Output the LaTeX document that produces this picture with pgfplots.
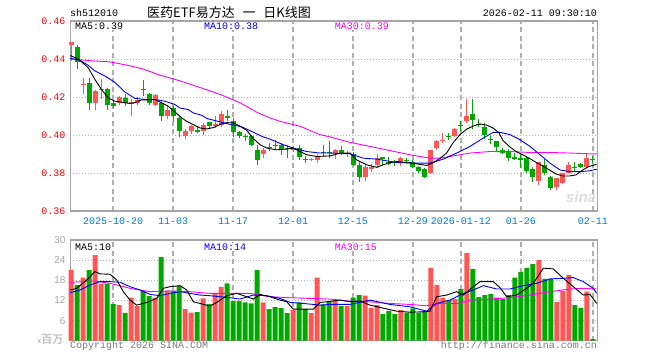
\documentclass[border=0pt]{standalone}
\usepackage{pgfplots}
\pgfplotsset{compat=1.18}
\usepackage{pgfplotstable}
\usepackage{fontspec}
\setmonofont{Liberation Mono}
\setsansfont{Liberation Sans}
\newfontfamily\cjk{Noto Sans CJK SC}
\definecolor{upred}{RGB}{255,85,85}
\definecolor{dngreen}{RGB}{0,168,0}
\definecolor{framegray}{RGB}{165,165,165}
\definecolor{gridgray}{RGB}{175,175,175}
\definecolor{datblue}{RGB}{0,120,220}
\definecolor{mablue}{RGB}{0,0,255}
\definecolor{mamag}{RGB}{255,0,255}
\definecolor{txtgray}{RGB}{120,120,120}
\definecolor{lblgray}{RGB}{165,165,165}
\newcommand{\mono}{\ttfamily\fontsize{10bp}{10bp}\selectfont}

\pgfplotstableread{
i O H L C V
0 0.4475 0.4490 0.4391 0.4488 21.1
2 0.4263 0.4298 0.4215 0.4270 18.8
4 0.4170 0.4235 0.4130 0.4232 25.5
5 0.4235 0.4297 0.4190 0.4244 16.9
8 0.4170 0.4207 0.4160 0.4200 10.6
10 0.4165 0.4190 0.4100 0.4172 12.8
11 0.4170 0.4200 0.4160 0.4185 10.3
14 0.4160 0.4215 0.4150 0.4208 12.8
16 0.4100 0.4150 0.4085 0.4134 14.9
19 0.3993 0.4030 0.3980 0.4023 9.4
20 0.4023 0.4050 0.4005 0.4046 8.4
22 0.4023 0.4065 0.4002 0.4055 12.6
24 0.4046 0.4099 0.4035 0.4060 13.9
25 0.4055 0.4125 0.4043 0.4113 16.0
32 0.3900 0.3930 0.3880 0.3922 11.4
37 0.3922 0.3940 0.3912 0.3933 9.2
40 0.3868 0.3880 0.3865 0.3875 8.2
41 0.3869 0.3902 0.3850 0.3892 18.8
44 0.3905 0.3925 0.3875 0.3922 12.2
46 0.3898 0.3915 0.3885 0.3905 10.4
49 0.3780 0.3840 0.3756 0.3834 13.4
50 0.3820 0.3845 0.3807 0.3834 9.8
51 0.3842 0.3900 0.3825 0.3878 10.6
55 0.3852 0.3885 0.3835 0.3878 9.1
60 0.3802 0.3922 0.3795 0.3922 21.7
61 0.3934 0.3975 0.3920 0.3966 16.6
62 0.3966 0.4011 0.3958 0.3975 12.8
64 0.3993 0.4036 0.3987 0.4032 12.4
66 0.4072 0.4187 0.4064 0.4102 26.2
78 0.3759 0.3860 0.3737 0.3860 24.0
81 0.3728 0.3772 0.3710 0.3772 11.6
82 0.3749 0.3802 0.3742 0.3799 14.8
83 0.3802 0.3860 0.3799 0.3843 19.6
86 0.3830 0.3905 0.3825 0.3878 14.6
}\redtab

\pgfplotstableread{
i O H L C V
1 0.4465 0.4475 0.4347 0.4382 16.6
3 0.4276 0.4300 0.4130 0.4170 21.0
6 0.4240 0.4245 0.4134 0.4158 17.0
7 0.4166 0.4180 0.4140 0.4150 10.9
9 0.4195 0.4215 0.4155 0.4170 8.3
12 0.4243 0.4288 0.4205 0.4238 14.8
13 0.4218 0.4222 0.4160 0.4170 13.3
15 0.4170 0.4175 0.4072 0.4100 24.9
17 0.4143 0.4155 0.4072 0.4099 14.9
18 0.4087 0.4099 0.3988 0.4023 16.3
21 0.4025 0.4045 0.4008 0.4018 8.5
23 0.4067 0.4070 0.4035 0.4046 10.9
26 0.4099 0.4134 0.4072 0.4087 17.1
27 0.4076 0.4087 0.3988 0.4016 11.9
28 0.4016 0.4020 0.3985 0.3993 11.9
29 0.3993 0.4005 0.3970 0.3988 11.4
30 0.3993 0.3998 0.3940 0.3945 11.1
31 0.3922 0.3949 0.3843 0.3869 21.0
33 0.3933 0.3960 0.3915 0.3929 9.4
34 0.3943 0.3975 0.3928 0.3940 10.0
35 0.3949 0.3960 0.3895 0.3922 9.7
36 0.3932 0.3945 0.3880 0.3927 8.2
38 0.3933 0.3945 0.3870 0.3883 11.4
39 0.3869 0.3890 0.3853 0.3866 9.4
42 0.3910 0.3949 0.3890 0.3906 10.8
43 0.3910 0.3966 0.3878 0.3906 11.7
45 0.3922 0.3940 0.3895 0.3905 10.4
47 0.3900 0.3912 0.3836 0.3842 12.8
48 0.3842 0.3860 0.3752 0.3780 13.6
52 0.3880 0.3886 0.3840 0.3876 7.9
53 0.3860 0.3885 0.3840 0.3848 8.8
54 0.3854 0.3870 0.3835 0.3850 7.9
56 0.3866 0.3880 0.3855 0.3862 8.4
57 0.3860 0.3870 0.3828 0.3834 9.6
58 0.3830 0.3838 0.3800 0.3812 8.4
59 0.3821 0.3825 0.3772 0.3777 8.8
63 0.3995 0.4011 0.3975 0.3990 12.1
65 0.4050 0.4076 0.4019 0.4046 15.4
67 0.4113 0.4187 0.4032 0.4078 21.4
68 0.4058 0.4085 0.4040 0.4053 13.0
69 0.4043 0.4064 0.3980 0.4002 13.6
70 0.3978 0.3995 0.3950 0.3973 13.9
71 0.3966 0.3970 0.3912 0.3937 12.8
72 0.3922 0.3932 0.3898 0.3905 12.4
73 0.3913 0.3925 0.3862 0.3878 13.6
74 0.3880 0.3905 0.3868 0.3876 18.8
75 0.3875 0.3905 0.3825 0.3871 20.5
76 0.3878 0.3887 0.3799 0.3811 21.7
77 0.3820 0.3834 0.3754 0.3781 22.8
79 0.3843 0.3878 0.3790 0.3799 18.4
80 0.3781 0.3784 0.3710 0.3719 18.4
84 0.3832 0.3860 0.3807 0.3828 10.6
85 0.3848 0.3852 0.3825 0.3830 9.8
87 0.3872 0.3887 0.3855 0.3868 0.5
}\greentab

\pgfplotsset{
  klaxis/.style={
    scale only axis, width=527bp, clip=false,
    xmin=-0.12, xmax=87.72,
    axis line style={draw=framegray, line width=1.4bp},
    major tick length=0pt,
    xtick={7,17,27,37,47,57,65,75,87},
    xmajorgrids, ymajorgrids,
    x grid style={draw=gridgray, line width=1.1bp, dash pattern=on 5bp off 3.5bp},
    y grid style={draw=gridgray, line width=0.9bp, dash pattern=on 1bp off 2bp},
    axis on top=false,
  }
}

\begin{document}
\begin{tikzpicture}
\path[use as bounding box] (0,0) rectangle (660bp,360bp);

% ---------------- price panel ----------------
\begin{axis}[klaxis,
  at={(70.3bp,149bp)}, anchor=south west, height=190bp,
  ymin=0.36, ymax=0.46,
  ytick={0.36,0.38,0.40,0.42,0.44,0.46},
  yticklabels={0.36,0.38,0.40,0.42,0.44,0.46},
  yticklabel style={font=\mono, text=red, anchor=east, inner sep=0pt, xshift=-4.6bp},
  xticklabels={2025-10-20,11-03,11-17,12-01,12-15,12-29,2026-01-12,01-26,02-11},
  xticklabel style={font=\mono, text=datblue, anchor=base, inner sep=0pt, yshift=-13.5bp},
]
% wicks
\addplot[draw=none, mark=none, forget plot,
  error bars/.cd, y dir=plus, y explicit, error mark=none,
  error bar style={draw=upred, line width=1bp}]
  table[x=i, y=L, y error plus expr=\thisrow{H}-\thisrow{L}]{\redtab};
\addplot[draw=none, mark=none, forget plot,
  error bars/.cd, y dir=plus, y explicit, error mark=none,
  error bar style={draw=dngreen, line width=1bp}]
  table[x=i, y=L, y error plus expr=\thisrow{H}-\thisrow{L}]{\greentab};
% bodies
\addplot[draw=none, mark=none, forget plot,
  error bars/.cd, y dir=plus, y explicit, error mark=none,
  error bar style={draw=upred, line width=5bp, line cap=butt}]
  table[x=i, y=O, y error plus expr={max(\thisrow{C}-\thisrow{O},0.0006)}]{\redtab};
\addplot[draw=none, mark=none, forget plot,
  error bars/.cd, y dir=plus, y explicit, error mark=none,
  error bar style={draw=dngreen, line width=5bp, line cap=butt}]
  table[x=i, y=C, y error plus expr={max(\thisrow{O}-\thisrow{C},0.0006)}]{\greentab};
% MA30
\addplot[mamag, line width=0.9bp, mark=none] coordinates {
(-0.12,0.4400) (1.5,0.4396) (3.17,0.4391) (6.5,0.4385) (9.83,0.4364) (12.05,0.4347)
(14.83,0.4315) (18.17,0.4285) (21.5,0.4250) (24.83,0.4214) (28.17,0.4170) (30.95,0.4120)
(33.17,0.4090) (34.83,0.4072) (38.17,0.4046) (41.5,0.4002) (43.17,0.3990) (46.5,0.3961)
(49.83,0.3940) (53.17,0.3918) (56.5,0.3896) (59.83,0.3878) (61.5,0.3878) (63.17,0.3887)
(66.5,0.3905) (69.83,0.3913) (73.17,0.3913) (76.5,0.3908) (79.83,0.3908) (83.17,0.3905)
(86.5,0.3901) (87.62,0.3901)};
% MA10
\addplot[mablue, line width=0.9bp, mark=none] coordinates {
(-0.12,0.4404) (1.5,0.4393) (2.83,0.4368) (3.95,0.4338) (5.62,0.4311) (7.28,0.4278)
(8.95,0.4227) (10.62,0.4193) (12.28,0.4187) (13.95,0.4187) (15.62,0.4178) (17.28,0.4161)
(18.17,0.4142) (19.55,0.4134) (20.38,0.4116) (21.78,0.4104) (22.62,0.4087) (24,0.4076)
(26.22,0.4058) (28.45,0.4043) (30.12,0.4019) (31.78,0.3993) (33.45,0.3975) (35.12,0.3952)
(37.05,0.3931) (39.28,0.3913) (41.5,0.3905) (43.17,0.3905) (46.5,0.3901) (48.72,0.3878)
(50.95,0.3873) (54.28,0.3855) (57.62,0.3852) (59.83,0.3852) (62.05,0.3873) (64.28,0.3905)
(66.5,0.3940) (68.72,0.3984) (70.38,0.4014) (71.5,0.4014) (73.17,0.4002) (74.83,0.3975)
(76.5,0.3940) (78.17,0.3896) (79.83,0.3852) (81.5,0.3816) (83.17,0.3807) (84.83,0.3807)
(86.5,0.3812) (87.62,0.3820)};
% MA5
\addplot[black, line width=0.9bp, mark=none] coordinates {
(-0.12,0.4418) (1.17,0.4400) (2.83,0.4356) (3.95,0.4294) (5.05,0.4241) (6.17,0.4196)
(7.28,0.4178) (8.38,0.4173) (9.78,0.4166) (10.62,0.4170) (11.72,0.4184) (12.83,0.4184)
(13.95,0.4187) (15.05,0.4170) (16.17,0.4152) (17.33,0.4121) (18.45,0.4090) (19.28,0.4072)
(20.38,0.4055) (21.5,0.4037) (22.62,0.4032) (23.72,0.4039) (24.83,0.4055) (25.95,0.4065)
(27.05,0.4064) (28.17,0.4046) (29.28,0.4025) (30.38,0.3981) (31.5,0.3949) (32.62,0.3931)
(34.28,0.3922) (35.95,0.3926) (37.05,0.3931) (38.17,0.3913) (39.28,0.3896) (40.95,0.3887)
(43.17,0.3890) (44.83,0.3904) (46.5,0.3905) (47.62,0.3869) (49.28,0.3843) (50.95,0.3830)
(52.05,0.3843) (53.17,0.3855) (54.28,0.3860) (55.95,0.3855) (57.62,0.3848) (59.28,0.3840)
(60.33,0.3853) (61.5,0.3877) (62.62,0.3906) (63.67,0.3959) (64.83,0.4002) (65.95,0.4031)
(67.05,0.4047) (68.17,0.4058) (69.28,0.4052) (70.38,0.4036) (71.33,0.4011) (72,0.3971)
(73.05,0.3940) (74.17,0.3913) (75.28,0.3896) (76.38,0.3878) (77.5,0.3856) (78.62,0.3837)
(79.72,0.3816) (80.83,0.3795) (81.95,0.3784) (83.05,0.3784) (84.17,0.3790) (85.28,0.3816)
(86.38,0.3835) (87.58,0.3845)};
\end{axis}

% ---------------- volume panel ----------------
\begin{axis}[klaxis,
  at={(70.3bp,19.3bp)}, anchor=south west, height=100.7bp,
  ymin=0, ymax=30,
  ytick={0,6,12,18,24,30},
  yticklabels={,6,12,18,24,30},
  yticklabel style={font=\sffamily\fontsize{10bp}{10bp}\selectfont, text=lblgray, anchor=east, inner sep=0pt, xshift=-4.6bp},
  xticklabels={},
]
\addplot[ybar, bar width=5bp, bar shift=0pt, fill=upred, draw=none, forget plot]
  table[x=i, y=V]{\redtab};
\addplot[ybar, bar width=5bp, bar shift=0pt, fill=dngreen, draw=none, forget plot]
  table[x=i, y=V]{\greentab};
% MA30 vol
\addplot[mamag, line width=0.9bp, mark=none] coordinates {
(-0.12,17.4) (3.72,17.8) (6.5,17.1) (9.83,15.6) (13.17,14.6) (16.5,14.8) (19.83,14.6)
(23.17,14.1) (26.5,14.1) (29.83,14.1) (33.17,13.1) (36.5,12.8) (39.83,12.6) (43.17,12.4)
(46.5,11.8) (49.83,11.6) (53.17,11.1) (56.5,10.8) (59.28,10.4) (61.5,11.1) (64.83,11.1)
(66.5,12.1) (69.83,12.4) (73.17,12.8) (76.5,13.6) (79.83,14.6) (83.17,15.4) (85.38,15.6)
(87.62,15.4)};
% MA10 vol
\addplot[mablue, line width=0.9bp, mark=none] coordinates {
(-0.12,14.3) (1.5,15.1) (3.17,16.6) (4.83,17.6) (6.5,17.6) (8.17,17.4) (9.83,16.1)
(11.5,15.1) (13.17,13.8) (14.83,13.4) (16.5,14.1) (18.17,14.6) (19.83,14.1) (21.5,13.6)
(23.17,13.4) (24.83,13.1) (26.5,12.8) (28.17,12.4) (30.38,13.6) (32.62,13.4) (34.83,12.6)
(36.5,11.4) (38.72,11.1) (41.5,10.6) (43.17,10.8) (46.5,10.8) (49.83,12.1) (53.17,10.8)
(56.5,10.1) (59.28,8.8) (60.95,11.1) (63.17,12.1) (65.38,14.1) (67.05,15.1) (68.72,16.4)
(70.95,15.4) (73.17,15.4) (75.38,16.4) (77.62,17.1) (79.83,18.4) (82.05,18.6) (83.72,18.8)
(85.38,17.6) (87.05,15.6) (87.62,14.1)};
% MA5 vol
\addplot[black, line width=0.9bp, mark=none] coordinates {
(-0.12,15.1) (0.95,15.6) (2.62,18.1) (4,20.6) (4.83,19.9) (6.5,19.8) (7.62,18.1) (8.72,14.6)
(9.83,12.1) (10.95,10.6) (12.62,11.4) (14.28,12.6) (15.38,15.6) (16.5,16.1) (18.17,16.4)
(19.28,15.1) (20.38,11.6) (21.5,11.1) (23.17,10.3) (24.28,11.4) (25.95,13.4) (27.62,14.1)
(29.28,13.1) (30.38,12.4) (31.5,13.8) (33.17,13.1) (34.83,12.1) (35.95,11.6) (37.05,9.4)
(40.38,9.4) (41.5,11.4) (43.17,11.7) (44.83,12.1) (46.5,11.6) (48.17,11.8) (49.83,10.6)
(52.05,9.7) (54.28,8.8) (56.5,8.5) (58.72,8.6) (59.83,8.8) (60.95,13.1) (62.62,13.6)
(64.28,14.6) (65.38,13.6) (67.05,16.1) (68.17,17.6) (70.38,17.6) (71.5,15.8) (72.62,13.1)
(74.28,13.6) (75.95,15.6) (77.05,17.1) (78.72,21.6) (80.38,21.4) (82.05,18.6) (83.72,16.1)
(85.38,13.6) (86.5,13.8) (87.62,11.1)};
\end{axis}

% ---------------- texts ----------------
\node[anchor=west, font=\mono, inner sep=0pt] at (70bp,347bp) {sh512010};
\node[anchor=center, inner sep=0pt] at (229bp,347bp)
  {\cjk\fontsize{13bp}{13bp}\selectfont 医药ETF易方达\hspace{0.6em}一\hspace{0.6em}日K线图};
\node[anchor=east, font=\mono, inner sep=0pt] at (597bp,347bp) {2026-02-11 09:30:10};
\node[anchor=west, font=\mono, inner sep=1bp, fill=white] at (74bp,334bp) {MA5:0.39};
\node[anchor=west, font=\mono, inner sep=1bp, fill=white, text=mablue] at (203bp,334bp) {MA10:0.38};
\node[anchor=west, font=\mono, inner sep=1bp, fill=white, text=mamag] at (333.7bp,334bp) {MA30:0.39};
\node[anchor=west, font=\mono, inner sep=1bp, fill=white] at (74bp,113bp) {MA5:10};
\node[anchor=west, font=\mono, inner sep=1bp, fill=white, text=mablue] at (203bp,113bp) {MA10:14};
\node[anchor=west, font=\mono, inner sep=1bp, fill=white, text=mamag] at (333.7bp,113bp) {MA30:15};
\node[anchor=east, inner sep=0pt, text=lblgray] at (63.5bp,20bp)
  {\fontsize{8bp}{8bp}\selectfont\sffamily x\cjk\fontsize{11bp}{11bp}\selectfont 百万};
\node[anchor=west, font=\mono, inner sep=0pt, text=txtgray] at (70bp,14.5bp) {Copyright 2026 SINA.COM};
\node[anchor=east, font=\mono, inner sep=0pt, text=txtgray] at (597bp,14.5bp) {http://finance.sina.com.cn};
\node[anchor=center, inner sep=0pt, text={rgb,255:red,222;green,222;blue,222}] at (581bp,163bp)
  {\sffamily\bfseries\itshape\fontsize{15bp}{15bp}\selectfont sina};
\end{tikzpicture}
\end{document}
